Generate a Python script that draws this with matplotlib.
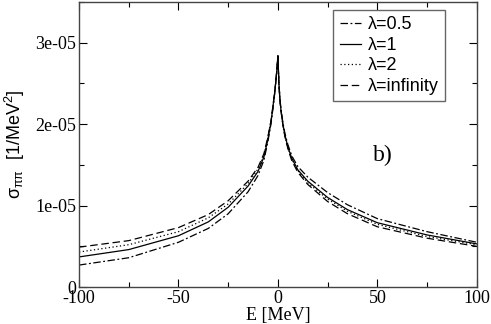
import matplotlib
matplotlib.use("Agg")
import matplotlib.pyplot as plt
from matplotlib.ticker import MultipleLocator, FuncFormatter
import numpy as np

# energie en MeV
E = [-100, -75, -50, -35, -25, -15, -10, -7, -5, -3.5, -2.5, -1.5, -1, -0.5, 0,
     0.5, 1, 1.5, 2.5, 3.5, 5, 7, 10, 15, 25, 35, 50, 75, 100]

# sections efficaces en unites de 1e-05 1/MeV^2
sig_l05 = [0.27, 0.36, 0.55, 0.72, 0.90, 1.17, 1.37, 1.56, 1.79, 2.00, 2.19, 2.40, 2.53, 2.67, 2.83,
           2.51, 2.32, 2.19, 2.02, 1.89, 1.75, 1.61, 1.48, 1.35, 1.16, 1.01, 0.84, 0.68, 0.55]
sig_l1 = [0.37, 0.46, 0.63, 0.80, 0.98, 1.24, 1.42, 1.60, 1.82, 2.02, 2.21, 2.41, 2.54, 2.67, 2.84,
          2.50, 2.31, 2.18, 2.00, 1.87, 1.72, 1.58, 1.44, 1.30, 1.10, 0.95, 0.79, 0.64, 0.53]
sig_l2 = [0.43, 0.52, 0.68, 0.85, 1.02, 1.27, 1.45, 1.62, 1.84, 2.03, 2.22, 2.41, 2.54, 2.67, 2.84,
          2.50, 2.31, 2.18, 2.00, 1.86, 1.71, 1.57, 1.43, 1.28, 1.08, 0.93, 0.77, 0.62, 0.52]
sig_linf = [0.49, 0.57, 0.73, 0.89, 1.06, 1.30, 1.47, 1.64, 1.85, 2.04, 2.22, 2.42, 2.54, 2.67, 2.84,
            2.49, 2.30, 2.17, 1.99, 1.85, 1.70, 1.55, 1.41, 1.26, 1.05, 0.90, 0.74, 0.60, 0.50]

labels = ["λ=0.5", "λ=1", "λ=2", "λ=infinity"]

plt.rcParams['axes.unicode_minus'] = False
plt.rcParams['mathtext.fontset'] = 'custom'
plt.rcParams['mathtext.rm'] = 'Liberation Sans'
plt.rcParams['mathtext.it'] = 'Liberation Sans'

fig = plt.figure(figsize=(4.91, 3.24), dpi=100)
ax = fig.add_axes([0.161, 0.114, 0.81, 0.88])

scale = 1e-05
ax.plot(E, np.array(sig_l05) * scale, color='black', lw=0.9, dashes=(6, 2, 1.5, 2), label=labels[0])
ax.plot(E, np.array(sig_l1) * scale, color='black', lw=0.9, ls='-', label=labels[1])
ax.plot(E, np.array(sig_l2) * scale, color='black', lw=0.9, dashes=(1, 2), label=labels[2])
ax.plot(E, np.array(sig_linf) * scale, color='black', lw=0.9, dashes=(6, 3), label=labels[3])

ax.set_xlim(-100, 100)
ax.set_ylim(0, 3.5e-05)
ax.xaxis.set_major_locator(MultipleLocator(50))
ax.xaxis.set_minor_locator(MultipleLocator(25))
ax.yaxis.set_major_locator(MultipleLocator(1e-05))
ax.yaxis.set_minor_locator(MultipleLocator(0.5e-05))

def fmt_y(v, pos):
    if abs(v) < 1e-12:
        return "0"
    return f"{v:.0e}"

ax.yaxis.set_major_formatter(FuncFormatter(fmt_y))
ax.tick_params(which='both', direction='in', top=True, right=True)
ax.tick_params(which='major', length=6, width=0.8)
ax.tick_params(which='minor', length=3.5, width=0.8)
for lab in ax.get_xticklabels() + ax.get_yticklabels():
    lab.set_fontfamily('Liberation Serif')
    lab.set_fontsize(13)
ax.tick_params(axis='x', pad=2)
ax.tick_params(axis='y', pad=2)
for s in ax.spines.values():
    s.set_color('#444444')
    s.set_linewidth(1.0)

ax.set_xlabel("E [MeV]", fontfamily='Liberation Serif', fontsize=13, labelpad=0)
ax.set_ylabel(r"$\mathrm{\sigma_{\pi\pi}}$  [1/MeV$^2$]", fontfamily='Liberation Sans', fontsize=13, labelpad=6)

ax.text(48, 1.62e-05, "b)", fontfamily='Liberation Serif', fontsize=17, va='center', ha='left')

leg = ax.legend(loc='upper right', bbox_to_anchor=(0.92, 0.972), borderaxespad=0, fontsize=13,
                handlelength=1.2, handletextpad=0.35, labelspacing=0.2, borderpad=0.35,
                fancybox=False, framealpha=1, edgecolor='#666666')
leg.get_frame().set_linewidth(1.0)
for t in leg.get_texts():
    t.set_fontfamily('Liberation Sans')

fig.savefig("out.png", dpi=100)
